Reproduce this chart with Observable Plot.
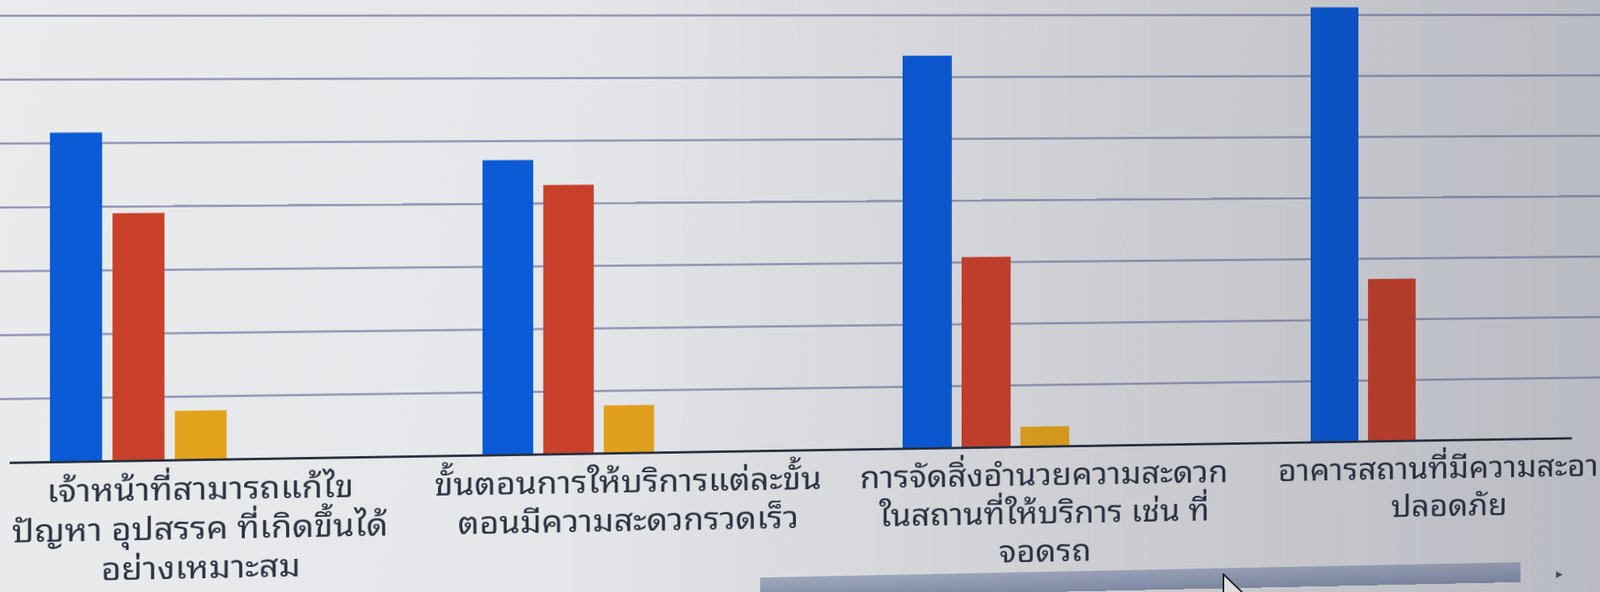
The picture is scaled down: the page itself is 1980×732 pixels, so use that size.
<!DOCTYPE html>
<html>
<head>
<meta charset="utf-8">
<script src="https://cdn.jsdelivr.net/npm/d3@7"></script>
<script src="https://cdn.jsdelivr.net/npm/@observablehq/plot@0.6"></script>
<style>
  html, body { margin: 0; padding: 0; width: 1980px; height: 732px; overflow: hidden; }
  body {
    position: relative;
    background: linear-gradient(100deg, #eaebed 0%, #e4e6e9 40%, #dcdee1 70%, #d7d9dc 100%);
  }
  /* the photo of the screen is seen slightly from the left: a small perspective turn */
  #wrap {
    position: absolute; left: 0; top: 0; width: 2120px; height: 732px;
    transform-origin: 0 0;
    transform: perspective(2000px) rotateY(3.14deg);
  }
  #scroll { position: absolute; left: 967px; top: 733px; width: 1020px; height: 26px;
            background: linear-gradient(#a3adc2, #8893ab); }
  #arrow { position: absolute; left: 2036px; top: 738px; font-size: 18px; color: #4a4f5a; font-family: "DejaVu Sans"; }
  #shade { position: absolute; left: 0; top: 0; width: 1980px; height: 732px; pointer-events: none;
           background: linear-gradient(90deg, rgba(20,20,50,0) 0%, rgba(20,20,50,0) 35%, rgba(20,20,50,0.15) 100%); }
  #pointer { position: absolute; left: 1512px; top: 709px; }
</style>
</head>
<body>
<div id="wrap">
  <div id="chart"></div>
  <div id="scroll"></div>
  <div id="arrow">▸</div>
</div>
<svg id="pointer" width="40" height="30" viewBox="0 0 40 30"><path d="M2 1 L2 40 L12 31 L19 45 L25 42 L18 29 L31 29 Z" fill="#f4f4f4" stroke="#222" stroke-width="2"/></svg>
<div id="shade"></div>
<script>
// ---- data ----
const categories = [
  "เจ้าหน้าที่สามารถแก้ไข\nปัญหา อุปสรรค ที่เกิดขึ้นได้\nอย่างเหมาะสม",
  "ขั้นตอนการให้บริการแต่ละขั้น\nตอนมีความสะดวกรวดเร็ว",
  "การจัดสิ่งอำนวยความสะดวก\nในสถานที่ให้บริการ เช่น ที่\nจอดรถ",
  "อาคารสถานที่มีความสะอาด\nปลอดภัย"
];
const series = ["มากที่สุด", "มาก", "ปานกลาง", "น้อย", "น้อยที่สุด"];
const mostValues    = [51.6, 46.9, 63.4, 71.2];
const muchValues    = [38.9, 42.9, 30.8, 26.6];
const mediumValues  = [7.7, 7.6, 3.2, 0];
const lowValues     = [0, 0, 0, 0];
const lowestValues  = [0, 0, 0, 0];
const gridValues = [10, 20, 30, 40, 50, 60, 70];
const seriesColors = ["#0b5ad6", "#c9412a", "#e3a21c", "#7f8c8d", "#3c8d3c"];

// ---- table for the library ----
const valuesBySeries = [mostValues, muchValues, mediumValues, lowValues, lowestValues];
const slot = (i, s) => `${i}|${s}`;
const rows = categories.flatMap((c, i) =>
  series.map((s, k) => ({slot: slot(i, s), series: s, value: valuesBySeries[k][i]}))
);
// slot domain: 5 series slots + 2 spacer slots per category
const xDomain = categories.flatMap((c, i) => [...series.map(s => slot(i, s)), slot(i, "_a"), slot(i, "_b")]);
const labelRows = categories.map((c, i) => ({slot: slot(i, series[2]), label: c}));

const chart = Plot.plot({
  width: 2120,
  height: 732,
  marginTop: 19,
  marginBottom: 160,
  marginLeft: 0,
  marginRight: 0,
  style: {background: "transparent", overflow: "visible"},
  x: {domain: xDomain, range: [56.6, 2238.4], paddingInner: 0.171, paddingOuter: 0, axis: null},
  y: {domain: [0, 70], axis: null},
  color: {domain: series, range: seriesColors},
  marks: [
    Plot.ruleY(gridValues, {stroke: "#8a91b0", strokeWidth: 2.5}),
    Plot.barY(rows, {x: "slot", y: "value", fill: "series"}),
    Plot.ruleY([0], {stroke: "#283040", strokeWidth: 3, insetLeft: 12, insetRight: 62}),
    Plot.text(labelRows, {
      x: "slot", text: "label", frameAnchor: "bottom", lineAnchor: "top",
      dy: 14, fontSize: 38, lineHeight: 1.30, fill: "#2c3240",
      fontFamily: "Tahoma, 'Noto Sans Thai Looped', Waree, Loma, Garuda, 'Noto Sans Thai', sans-serif"
    })
  ]
});
document.getElementById("chart").append(chart);

// widen the label glyphs a little (the screen font is wider) and clip them where the screen's chart area ends
const ns = "http://www.w3.org/2000/svg";
const textGroup = chart.querySelector('g[aria-label="text"]');
if (textGroup) {
  textGroup.querySelectorAll("text").forEach(t => {
    const tr = t.getAttribute("transform") || "";
    t.setAttribute("transform", tr + " scale(1.14,1)");
  });
  const defs = document.createElementNS(ns, "defs");
  const cp = document.createElementNS(ns, "clipPath");
  cp.setAttribute("id", "labelclip");
  const r = document.createElementNS(ns, "rect");
  r.setAttribute("x", -200); r.setAttribute("y", 0);
  r.setAttribute("width", 2258); r.setAttribute("height", 1000);
  cp.append(r); defs.append(cp); chart.prepend(defs);
  textGroup.setAttribute("clip-path", "url(#labelclip)");
}
</script>
</body>
</html>
